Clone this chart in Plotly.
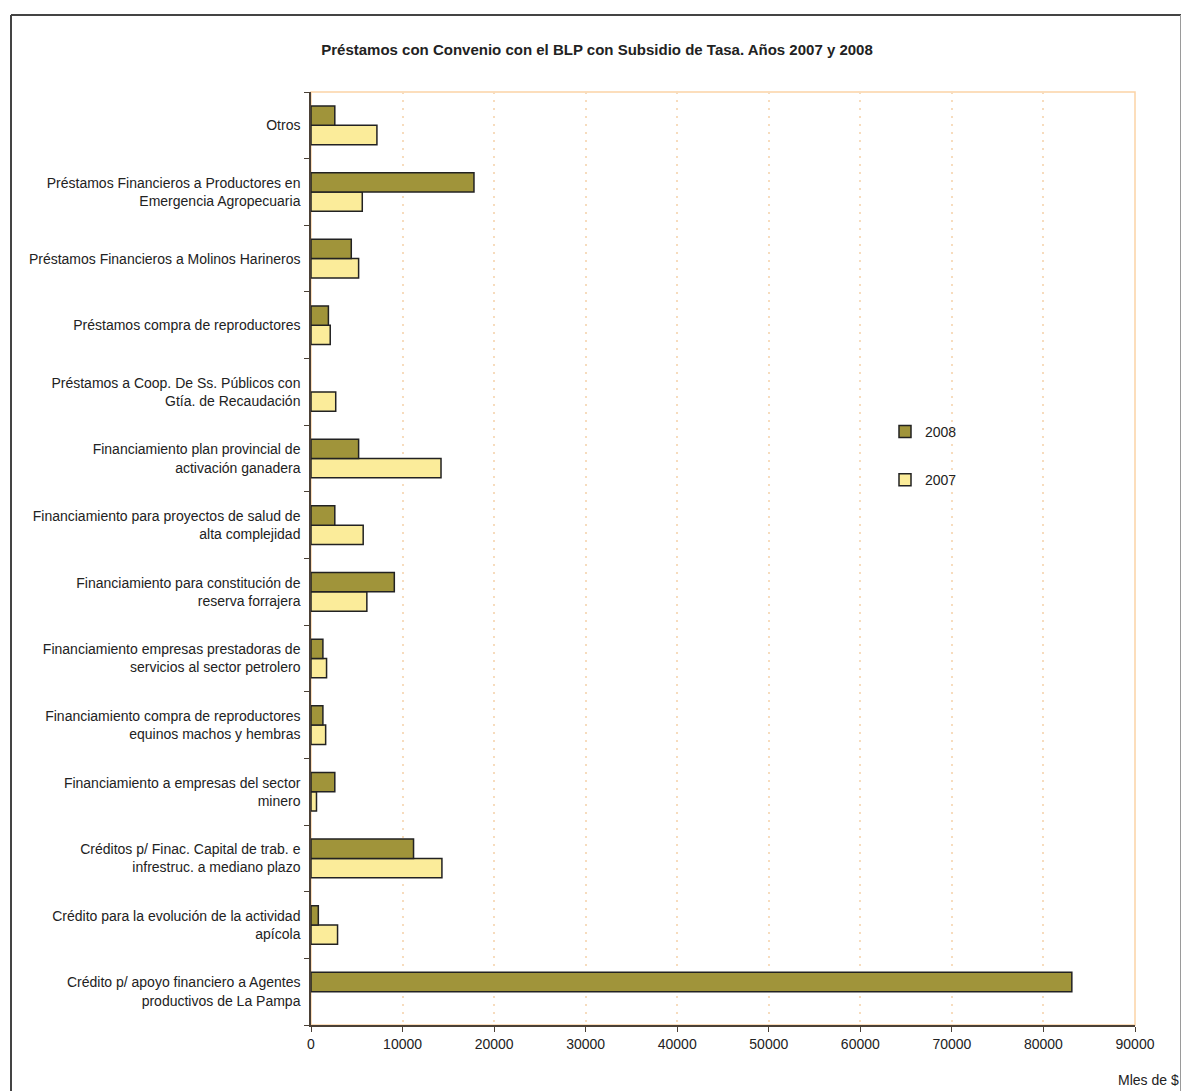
import plotly.graph_objects as go

categories = [
    "Crédito p/ apoyo financiero a Agentes<br>productivos de La Pampa",
    "Crédito para la evolución de la actividad<br>apícola",
    "Créditos p/ Finac. Capital de trab. e<br>infrestruc. a mediano plazo",
    "Financiamiento a empresas del sector<br>minero",
    "Financiamiento compra de reproductores<br>equinos machos y hembras",
    "Financiamiento empresas prestadoras de<br>servicios al sector petrolero",
    "Financiamiento para constitución de<br>reserva forrajera",
    "Financiamiento para proyectos de salud de<br>alta complejidad",
    "Financiamiento plan provincial de<br>activación ganadera",
    "Préstamos a Coop. De Ss. Públicos con<br>Gtía. de Recaudación",
    "Préstamos compra de reproductores",
    "Préstamos Financieros a Molinos Harineros",
    "Préstamos Financieros a Productores en<br>Emergencia Agropecuaria",
    "Otros",
]
values_2008 = [83100, 800, 11200, 2600, 1300, 1300, 9100, 2600, 5200, None, 1900, 4400, 17800, 2600]
values_2007 = [None, 2900, 14300, 600, 1600, 1700, 6100, 5700, 14200, 2700, 2100, 5200, 5600, 7200]
x_ticks = [0, 10000, 20000, 30000, 40000, 50000, 60000, 70000, 80000, 90000]

W, H = 1182, 1091
L, R, T, B = 311, 1135, 92, 1025

def px_x(p):
    return (p - L) / (R - L)

def px_y(p):
    return (B - p) / (B - T)

fig = go.Figure()
fig.add_trace(go.Bar(
    y=categories, x=values_2007, orientation="h", name="2007",
    marker=dict(color="#fbec9a", line=dict(color="#222222", width=1.5)),
    legendgroup="g2007", legendrank=2,
))
fig.add_trace(go.Bar(
    y=categories, x=values_2008, orientation="h", name="2008",
    marker=dict(color="#a0943a", line=dict(color="#222222", width=1.5)),
    legendgroup="g2008", legendrank=1,
))

font = "Liberation Sans, Arial, sans-serif"

fig.update_layout(
    width=W, height=H,
    margin=dict(l=L, r=W - R, t=T, b=H - B, pad=0),
    paper_bgcolor="white", plot_bgcolor="white",
    barmode="group", bargap=0.42, bargroupgap=0,
    font=dict(family=font, size=14, color="#222222"),
    title=dict(
        text="<b>Préstamos con Convenio con el BLP con Subsidio de Tasa. Años 2007 y 2008</b>",
        x=px_x(597), xref="paper", xanchor="center",
        y=1 - 50 / H, yref="container", yanchor="middle",
        font=dict(family=font, size=15, color="#222222"),
    ),
    showlegend=True,
    legend=dict(
        x=px_x(885), y=px_y(416), xanchor="left", yanchor="top",
        traceorder="grouped", tracegroupgap=27,
        font=dict(family=font, size=14, color="#222222"),
        bgcolor="rgba(0,0,0,0)", itemwidth=30,
    ),
    xaxis=dict(
        range=[0, 90000], tickvals=x_ticks, ticktext=[str(v) for v in x_ticks],
        showgrid=True, gridcolor="#f7dcbd", griddash="2px,6px", gridwidth=1.5,
        showline=True, linecolor="#4a4036", linewidth=1.5,
        ticks="outside", ticklen=5, tickcolor="#4a4036",
        zeroline=False, tickfont=dict(size=14), fixedrange=True,
    ),
    yaxis=dict(
        type="category", categoryorder="array", categoryarray=categories,
        showgrid=False, showline=True, linecolor="#4a4036", linewidth=1.5,
        ticks="outside", ticklen=5, tickcolor="#4a4036", tickson="boundaries",
        ticklabelstandoff=6, tickfont=dict(size=14), zeroline=False,
    ),
    shapes=[
        dict(type="rect", xref="paper", yref="paper", x0=0, x1=1, y0=0, y1=1,
             line=dict(color="#fcd3a6", width=1.5), layer="below"),
        # outer frame: left and top dark, right gray
        dict(type="line", xref="paper", yref="paper",
             x0=px_x(11), x1=px_x(11), y0=px_y(1100), y1=px_y(15),
             line=dict(color="#444444", width=2), layer="below"),
        dict(type="line", xref="paper", yref="paper",
             x0=px_x(11), x1=px_x(1181), y0=px_y(15), y1=px_y(15),
             line=dict(color="#444444", width=2), layer="below"),
        dict(type="line", xref="paper", yref="paper",
             x0=px_x(1180.5), x1=px_x(1180.5), y0=px_y(1100), y1=px_y(15),
             line=dict(color="#9a9a9a", width=1), layer="below"),
    ],
    annotations=[
        dict(text="Mles de $", xref="paper", yref="paper",
             x=px_x(1181), y=px_y(1080), xanchor="right", yanchor="middle",
             showarrow=False, font=dict(family=font, size=14, color="#222222")),
    ],
)

fig.write_html(
    "out.html",
    config={"displayModeBar": False},
    post_script="document.body.style.margin='0';document.body.style.overflow='hidden';",
)
